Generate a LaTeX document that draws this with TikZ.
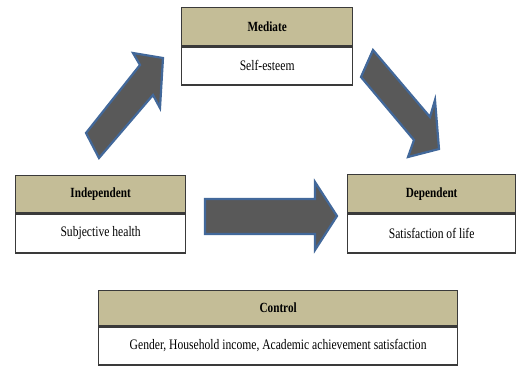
\documentclass[tikz,border=0pt]{standalone}
\usepackage{fontspec}
\setmainfont{Liberation Serif}[FakeStretch=0.8]
\definecolor{tan}{HTML}{C4BD97}
\definecolor{arrfill}{HTML}{595959}
\definecolor{arrline}{HTML}{42689A}
\definecolor{boxline}{HTML}{3A3A3A}
\tikzset{
  hdr/.style={draw=boxline, line width=1.3pt, fill=tan, anchor=north west, inner sep=0pt,
    font=\fontsize{14}{16}\selectfont\bfseries},
  bodybox/.style={draw=boxline, line width=1.3pt, fill=white, anchor=north, inner sep=0pt,
    font=\fontsize{14.5}{17}\selectfont},
  blockarrow/.style={fill=arrfill, draw=arrline, line width=2.2pt, line join=miter}
}
\begin{document}
\begin{tikzpicture}[x=1pt,y=-1pt]
\useasboundingbox (0,0) rectangle (517,365);
% Mediate
\node[hdr, minimum width=171pt, minimum height=38pt] (medh) at (181,7) {Mediate};
\node[bodybox, minimum width=171pt, minimum height=38pt] (medb) at (medh.south) {Self-esteem};
% Independent
\node[hdr, minimum width=170pt, minimum height=37pt] (indh) at (15,175) {Independent};
\node[bodybox, minimum width=170pt, minimum height=39pt] (indb) at (indh.south) {Subjective health};
% Dependent
\node[hdr, minimum width=168pt, minimum height=38pt] (deph) at (347,174) {Dependent};
\node[bodybox, minimum width=168pt, minimum height=39pt] (depb) at (deph.south) {Satisfaction of life};
% Control
\node[hdr, minimum width=359pt, minimum height=35pt] (conh) at (98,290) {Control};
\node[bodybox, minimum width=359pt, minimum height=38pt] (conb) at (conh.south) {Gender, Household income, Academic achievement satisfaction};
% Arrows
\draw[blockarrow] (86,133) -- (140,65) -- (133,53) -- (163,58) -- (160,108) -- (153,95) -- (99,158) -- cycle;
\draw[blockarrow] (373,50) -- (430,117) -- (435,100) -- (439,149) -- (408,157) -- (414,140) -- (361,77) -- cycle;
\draw[blockarrow] (205,199) -- (315,199) -- (315,182) -- (337,216) -- (315,250) -- (315,234) -- (205,234) -- cycle;
\end{tikzpicture}
\end{document}
